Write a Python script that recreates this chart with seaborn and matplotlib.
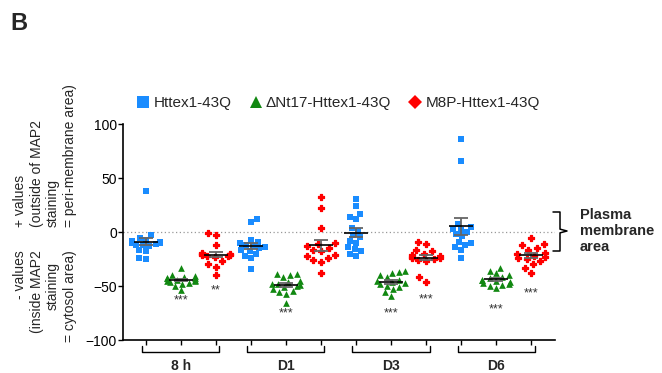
import numpy as np
import pandas as pd
import matplotlib
matplotlib.use("Agg")
import matplotlib.pyplot as plt
import matplotlib.transforms as mtransforms
from matplotlib.lines import Line2D
import seaborn as sns

# one slot per (time point, construct)
timepoints = ["8 h", "D1", "D3", "D6"]
constructs = ["Httex1-43Q", "\u0394Nt17-Httex1-43Q", "M8P-Httex1-43Q"]
colors = ["#1a8cff", "#118811", "#ff0000"]
markers = ["s", "^", "P"]

httex_8h = [38, -3, -6, -7, -8, -9, -10, -10, -11, -12, -12, -13, -17, -18, -24, -25, -9]
dnt17_8h = [-33, -40, -41, -42, -43, -43, -44, -44, -45, -45, -46, -47, -48, -50, -54, -43]
m8p_8h = [-1, -3, -12, -19, -20, -20, -21, -21, -22, -22, -23, -27, -30, -32, -40]
httex_d1 = [12, 9, -7, -9, -10, -12, -13, -14, -15, -17, -18, -20, -22, -24, -34]
dnt17_d1 = [-39, -39, -40, -42, -45, -46, -48, -49, -50, -51, -53, -55, -56, -57, -66, -48]
m8p_d1 = [32, 22, 4, -10, -11, -13, -15, -17, -18, -21, -22, -24, -26, -28, -38]
httex_d3 = [31, 24, 17, 14, 12, 4, 1, -3, -5, -8, -10, -14, -16, -18, -20, -22]
dnt17_d3 = [-36, -37, -38, -40, -42, -44, -45, -46, -47, -48, -50, -51, -53, -56, -59]
m8p_d3 = [-9, -11, -17, -18, -20, -21, -22, -23, -24, -25, -26, -27, -42, -46, -24]
httex_d6 = [86, 66, 7, 5, 3, 2, 0, -2, -4, -9, -10, -12, -14, -17, -24]
dnt17_d6 = [-33, -36, -38, -40, -42, -43, -44, -45, -46, -47, -48, -49, -50, -52, -44]
m8p_d6 = [-6, -11, -12, -15, -17, -19, -20, -22, -23, -24, -25, -27, -30, -33, -38]

groups = [httex_8h, dnt17_8h, m8p_8h, httex_d1, dnt17_d1, m8p_d1,
          httex_d3, dnt17_d3, m8p_d3, httex_d6, dnt17_d6, m8p_d6]

# significance marks (slot index, label, y value)
sig_slots = [1, 2, 4, 7, 8, 10, 11]
sig_labels = ["***", "**", "***", "***", "***", "***", "***"]
sig_y = [-63, -54, -75, -75, -62, -72, -57]

rows = []
for i, vals in enumerate(groups):
    for v in vals:
        rows.append({"slot": str(i), "construct": constructs[i % 3], "value": v})
df = pd.DataFrame(rows)
slot_order = [str(i) for i in range(len(groups))]

sns.set_theme(style="ticks")
plt.rcParams["font.family"] = ["Liberation Sans", "DejaVu Sans"]

fig = plt.figure(figsize=(6.62, 3.73), dpi=100)
ax = fig.add_axes([123 / 662, 1 - 340 / 373, (555 - 123) / 662, (340 - 124) / 373])

for c, col, mk, sz, lw in zip(constructs, colors, markers, [4.6, 4.8, 4.8], [0, 0, 0.9]):
    sns.swarmplot(data=df[df["construct"] == c], x="slot", y="value", order=slot_order,
                  color=col, marker=mk, size=sz, linewidth=lw, edgecolor=col, ax=ax, zorder=2)

# mean + SEM
stats = df.groupby("slot", sort=False)["value"].agg(["mean", "sem"]).reindex(slot_order)
xs = np.arange(len(slot_order))
ax.errorbar(xs, stats["mean"], yerr=stats["sem"], fmt="none", ecolor="#666666",
            elinewidth=1.3, capsize=5, capthick=1.3, zorder=3)
ax.hlines(stats["mean"], xs - 0.35, xs + 0.35, color="black", lw=1.2, zorder=4)

for s, lab, yv in zip(sig_slots, sig_labels, sig_y):
    ax.text(s, yv, lab, ha="center", va="center", fontsize=9, color="#333333")

ax.axhline(0, color="#999999", lw=0.9, ls=(0, (1, 2)), zorder=1)

ax.set_xlim(-0.65, 11.68)
ax.set_ylim(-100, 100)
ax.set_yticks([-100, -50, 0, 50, 100])
ax.set_xticks(xs)
ax.set_xticklabels([])
ax.set_xlabel("")
ax.set_ylabel("")
ax.tick_params(axis="both", direction="out", length=3.5, width=1, labelsize=10, pad=1,
               colors="black")
for side in ["left", "bottom"]:
    ax.spines[side].set_linewidth(1.2)
    ax.spines[side].set_color("black")
sns.despine(ax=ax)

# time point brackets
trans = mtransforms.blended_transform_factory(ax.transData, fig.transFigure)
y_top = 1 - 346 / 373
y_bot = 1 - 352 / 373
for k, tp in enumerate(timepoints):
    x0, x1 = 3 * k - 0.1, 3 * k + 2.1
    ax.plot([x0, x0, x1, x1], [y_top, y_bot, y_bot, y_top], color="black", lw=1,
            transform=trans, clip_on=False)
    ax.text(3 * k + 1, 1 - 366 / 373, tp, transform=trans, ha="center", va="center",
            fontsize=10, fontweight="bold")

# plasma membrane bracket
ft = fig.transFigure
bx0, bx1, bmid = 553 / 662, 560 / 662, 567 / 662
yt, yb, ym = 1 - 212 / 373, 1 - 251 / 373, 1 - 231 / 373
fig.add_artist(Line2D([bx0, bx1, bx1, bmid, bx1, bx1, bx0],
                      [yt, yt, ym + 0.005, ym, ym - 0.005, yb, yb],
                      color="black", lw=1.1, transform=ft))
fig.text(580 / 662, ym, "Plasma\nmembrane\narea", ha="left", va="center",
         fontsize=10.5, fontweight="bold", linespacing=1.15)

# y-axis description
upper = ["+ values", "(outside of MAP2", "staining", "= peri-membrane area)"]
lower = ["- values", "(inside MAP2", "staining", "= cytosol area)"]
col_x = [20, 37, 53, 70]
for lx, t in zip(col_x, upper):
    fig.text(lx / 662, 1 - 227 / 373, t, rotation=90, ha="center", va="bottom", fontsize=10)
for i, (lx, t) in enumerate(zip(col_x, lower)):
    if i == 2:
        fig.text(lx / 662, 1 - 310 / 373, t, rotation=90, ha="center", va="bottom", fontsize=10)
    else:
        fig.text(lx / 662, 1 - 250 / 373, t, rotation=90, ha="center", va="top", fontsize=10)

# legend
handles = [Line2D([0], [0], marker=m, color="w", markerfacecolor=c, markeredgewidth=0,
                  markersize=s, label=lab)
           for m, c, s, lab in zip(["s", "^", "D"], colors, [8, 8, 7], constructs)]
fig.legend(handles=handles, loc="center", bbox_to_anchor=(337 / 662, 1 - 103 / 373), ncol=3,
           frameon=False, fontsize=11, handletextpad=0.05, columnspacing=1.0, handlelength=1.2,
           borderaxespad=0)

fig.text(10 / 662, 1 - 24 / 373, "B", fontsize=17, fontweight="bold", ha="left", va="center")

fig.savefig("out.png", dpi=100)
